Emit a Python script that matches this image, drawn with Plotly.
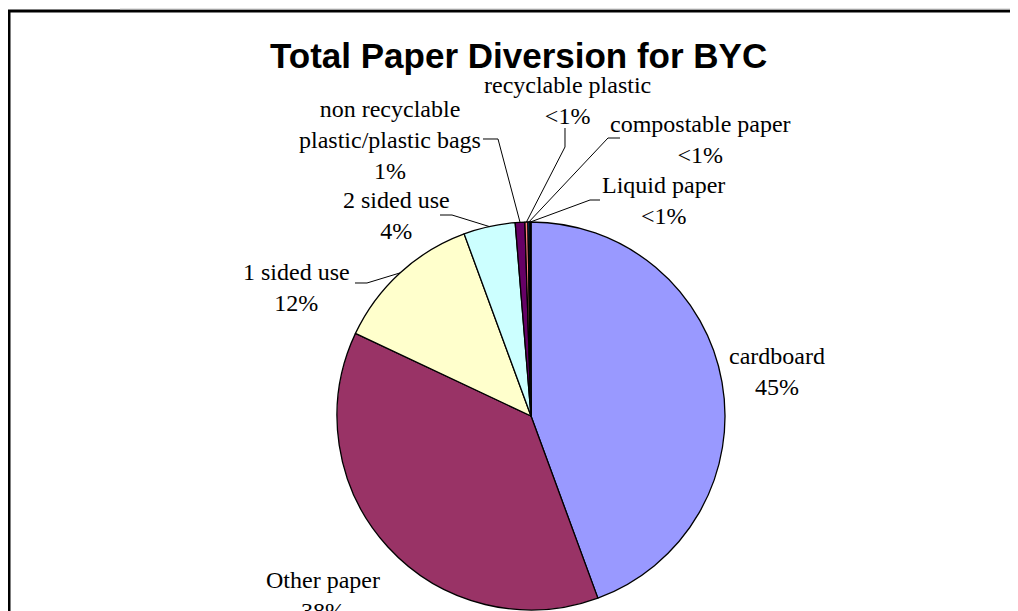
import math
import plotly.graph_objects as go

# ---- data ----
categories = ["cardboard", "Other paper", "1 sided use", "2 sided use",
              "non recyclable plastic/plastic bags", "recyclable plastic",
              "compostable paper", "Liquid paper"]
values = [44.4, 37.6, 12.4, 4.3, 0.8, 0.25, 0.15, 0.1]
pct_labels = ["45%", "38%", "12%", "4%", "1%", "<1%", "<1%", "<1%"]
label_names = ["cardboard", "Other paper", "1 sided use", "2 sided use",
               "non recyclable<br>plastic/plastic bags", "recyclable plastic",
               "compostable paper", "Liquid paper"]
colors = ["#9999FF", "#993366", "#FFFFCC", "#CCFFFF", "#660066", "#FF8080",
          "#0066CC", "#CCCCFF"]

# page is offset by the browser's 8px body margin
OFF = 8
W, H = 1010, 603
# pie geometry in page pixels
CX, CY, R = 531, 416, 194

def px(x, y):
    return (x - OFF) / W, 1 - (y - OFF) / H

dom_x = [(CX - OFF - R) / W, (CX - OFF + R) / W]
dom_y = [1 - (CY - OFF + R) / H, 1 - (CY - OFF - R) / H]

fig = go.Figure(go.Pie(
    labels=categories, values=values, sort=False, direction="clockwise",
    rotation=0, textinfo="none", showlegend=False,
    marker=dict(colors=colors, line=dict(color="black", width=1.3)),
    domain=dict(x=dom_x, y=dom_y),
))

# label positions (page pixel centres) and leader-line bends
label_pos = [(777, 371), (323, 595), (296, 287), (396, 215), (390, 140),
             (567, 101), (700, 139), (663, 200)]
leader = [None, None,
          [(355, 283), (367, 283)],
          [(440, 215), (452, 215)],
          [(483, 139), (498, 139)],
          [(565, 128), (565, 147)],
          [(620, 138), (608, 138)],
          [(600, 200), (590, 200)]]

total = sum(values)
cum = 0.0
annotations = []
shapes = []
for i, v in enumerate(values):
    mid = (cum + v / 2) / total * 2 * math.pi
    cum += v
    ex = CX + R * math.sin(mid)
    ey = CY - R * math.cos(mid)
    ax_, ay_ = px(*label_pos[i])
    annotations.append(dict(
        x=ax_, y=ay_, xref="paper", yref="paper", showarrow=False,
        text=label_names[i] + "<br>" + pct_labels[i], align="center",
        xanchor="center", yanchor="middle",
        font=dict(family="Liberation Serif", size=24, color="black")))
    if leader[i]:
        pts = leader[i] + [(ex, ey)]
        path = "M " + " L ".join("%f,%f" % px(x, y) for x, y in pts)
        shapes.append(dict(type="path", path=path, xref="paper", yref="paper",
                           line=dict(color="black", width=1)))

# title
tx, ty = px(518, 56)
annotations.append(dict(
    x=tx, y=ty, xref="paper", yref="paper", showarrow=False,
    text="<b>Total Paper Diversion for BYC</b>", xanchor="center", yanchor="middle",
    font=dict(family="Liberation Sans", size=35, color="black")))

# frame
gx0, gy = px(120, 9)
shapes.append(dict(type="line", xref="paper", yref="paper",
                   x0=gx0, x1=1, y0=gy, y1=gy,
                   line=dict(color="#c8c8c8", width=1)))
fx0, fy1 = px(9, 11)
shapes.append(dict(type="rect", xref="paper", yref="paper",
                   x0=fx0, x1=1.05, y0=-0.05, y1=fy1,
                   line=dict(color="black", width=3), layer="below"))

fig.update_layout(
    width=W, height=H, margin=dict(l=0, r=0, t=0, b=0),
    paper_bgcolor="white", plot_bgcolor="white",
    annotations=annotations, shapes=shapes,
)

fig.write_html("out.html")
